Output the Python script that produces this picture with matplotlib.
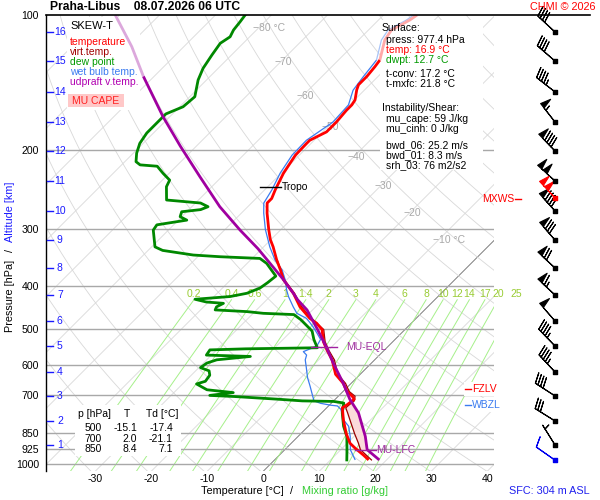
import numpy as np
import matplotlib
matplotlib.use("Agg")
import matplotlib.pyplot as plt
from matplotlib.lines import Line2D
from matplotlib.patches import Rectangle
from matplotlib.ticker import NullLocator

plt.rcParams['font.family'] = ['Liberation Sans', 'DejaVu Sans']

# ---------------- data ----------------
temp_p = [977, 953, 920, 897, 854, 795, 748, 736, 716, 705, 688, 660, 630, 585, 556, 533, 501,
          485, 473, 446, 416, 388, 369, 351, 328, 316, 300, 276, 262, 256, 245, 225, 214, 205,
          193, 190, 182, 173, 163, 158.5, 154.6, 146.8, 143, 137, 130.4, 126, 113.7, 108, 102.6, 100]
temp_t = [16.8, 15.0, 12.3, 10.5, 8.1, 5.1, 2.8, 3.1, 3.4, 2.5, 0.7, -1.4, -4.4, -7.6, -10.3, -12.4,
          -14.8, -16.9, -19.0, -22.8, -26.4, -30.6, -32.9, -35.3, -38.3, -40.1, -42.2, -45.4, -47.2,
          -47.2, -48.1, -49.6, -50.2, -50.7, -50.8, -50.8, -49.3, -49.3, -49.6, -49.6, -49.9, -51.4,
          -52.0, -52.0, -52.3, -52.6, -55.3, -55.9, -54.4, -54.0]

dew_p = [977, 927, 866, 822, 768, 730, 724, 722, 716, 706, 702, 692, 682, 662, 653, 633, 619, 609,
         595, 585, 575, 571, 556, 553, 550, 527, 505, 492, 476, 464, 461, 457, 453, 446, 438, 435,
         429, 423, 416, 405, 394, 381, 357, 348, 345, 342, 334, 328, 301, 293, 286, 281, 274, 271,
         267, 262, 258, 241, 233, 225, 217, 215.5, 212, 203, 193, 183, 174, 166, 160, 152, 139.5,
         131.4, 122.7, 115.6, 111.8, 108, 103.5, 100]
dew_t = [12.9, 11.1, 8.7, 6.3, 3.7, 2.2, 0.1, -5.6, -10.1, -18.5, -23.1, -19.4, -24.6, -27.5, -26.4,
         -26.7, -27.6, -29.7, -29.4, -28.2, -22.8, -30.9, -31.2, -25.0, -12.4, -14.5, -16.3, -18.1,
         -20.4, -22.5, -28.2, -31.4, -37.4, -37.7, -37.1, -40.4, -42.9, -37.1, -34.7, -33.3, -32.9,
         -32.6, -36.5, -38.6, -46.0, -51.1, -57.4, -59.4, -62.7, -63.0, -58.5, -60.3, -60.9, -57.9,
         -57.1, -59.1, -65.7, -68.1, -68.7, -71.1, -73.4, -76.7, -78.0, -79.4, -80.6, -81.2, -81.2,
         -81.2, -79.4, -79.1, -81.5, -82.7, -83.5, -84.1, -83.5, -84.1, -84.4, -84.7]

wb_p = [977, 927, 866, 822, 795, 754, 741, 738, 731, 722, 698, 670, 641, 606, 585, 571, 561, 551,
        545, 527, 510, 494, 482, 473, 461, 446, 423, 409, 388, 369, 351, 328, 300, 276, 262, 245,
        225, 205, 190, 173, 158.5, 147, 137, 126, 113.7, 108, 102.6, 100]
wb_t = [14.4, 11.7, 9.3, 7.2, 5.1, 2.8, 1.6, 0.2, -1.9, -3.5, -5.0, -6.8, -8.8, -11.0, -12.4, -13.0,
        -14.2, -13.3, -12.8, -13.3, -15.1, -16.9, -18.4, -19.6, -22.2, -24.0, -26.7, -28.2, -30.3,
        -32.6, -35.6, -38.9, -42.8, -46.0, -47.8, -48.7, -50.2, -51.3, -51.4, -49.9, -50.2, -52.0,
        -52.6, -53.2, -55.9, -56.5, -55.0, -54.6]

tv_p = [977, 953, 927, 897, 854, 806, 767, 748, 736, 722, 705, 688, 660, 630, 585, 556, 533, 501,
        473, 446, 416, 388, 351]
tv_t = [17.3, 15.5, 13.5, 12.0, 9.6, 6.9, 4.6, 3.4, 3.5, 3.7, 3.0, 1.1, -1.0, -4.0, -7.2, -10.0,
        -12.1, -14.5, -18.7, -22.5, -26.2, -30.5, -35.2]

par_p = [977, 927, 866, 768, 716, 660, 595, 545, 501, 453, 430, 416, 388, 331, 301, 267, 229, 196,
         168.4, 137, 117.6, 100]
par_t = [18.7, 14.7, 12.0, 6.6, 2.6, -1.4, -6.8, -11.2, -15.6, -21.0, -24.5, -26.4, -30.6, -40.7,
         -47.2, -55.0, -63.9, -72.8, -81.2, -91.9, -99.3, -107.9]

alt_km = list(range(1, 17))
alt_p = [904.8, 800.2, 703.9, 622.6, 545.0, 479.5, 419.7, 365.5, 316.7, 272.9, 234.0, 200.7,
         173.0, 148.3, 126.6, 109.1]

sfc_p = 977.4
wind_p = alt_p
wind_dir = [328, 302, 303, 317, 316, 319, 313, 313, 319, 318, 312, 316, 322, 308, 311, 313]
wind_spd = [5, 30, 40, 45, 45, 50, 65, 70, 80, 90, 100, 90, 55, 45, 40, 40]
sfc_dir, sfc_spd = 305, 10
mxws_p, mxws_dir, mxws_spd = 255.3, 317, 100

p_ticks = [100, 200, 300, 400, 500, 600, 700, 850, 925, 1000]
t_ticks = [-30, -20, -10, 0, 10, 20, 30, 40]
iso_labels = [-80, -70, -60, -50, -40, -30, -20, -10]
mix_ratios = [0.2, 0.4, 0.6, 1, 1.4, 2, 3, 4, 6, 8, 10, 12, 14, 17, 20, 25]
mix_labels = ['0.2', '0.4', '0.6', '1', '1.4', '2', '3', '4', '6', '8', '10', '12', '14', '17', '20', '25']

tropo_p = 241.7
eql_p = 547.0
lfc_p = 928.5
fzlv_p = 680.0
wbzl_p = 736.0

table_rows = [('500', '-15.1', '-17.4'), ('700', '2.0', '-21.1'), ('850', '8.4', '7.1')]

# ---------------- geometry ----------------
W, H = 600, 500
AX_L, AX_R, AX_T, AX_B = 46, 494, 15, 471
P_TOP, P_BOT = 100.0, 1034.0
PXDEG = 5.6
X0 = 263.5
DEC = np.log10(P_BOT / P_TOP)
SKEW = (AX_B - AX_T) / DEC / PXDEG


def sk(T, p):
    return np.asarray(T, float) + SKEW * np.log10(P_BOT / np.asarray(p, float))


def axx(px):
    return (px - X0) / PXDEG


def p_of(py):
    return P_TOP * 10 ** ((py - AX_T) / (AX_B - AX_T) * DEC)


fig = plt.figure(figsize=(6, 5), dpi=100)
fig.patch.set_facecolor('white')
ax = fig.add_axes([AX_L / W, 1 - AX_B / H, (AX_R - AX_L) / W, (AX_B - AX_T) / H])
ax.set_yscale('log')
ax.set_ylim(P_BOT, P_TOP)
ax.set_xlim(axx(AX_L), axx(AX_R))
for s in ['top', 'right', 'bottom']:
    ax.spines[s].set_visible(False)
ax.spines['left'].set_color('black')
ax.spines['left'].set_linewidth(1.0)
ax.yaxis.set_minor_locator(NullLocator())
ax.set_yticks(p_ticks)
ax.set_yticklabels([str(v) for v in p_ticks])
ax.set_xticks(t_ticks)
ax.set_xticklabels([str(v) for v in t_ticks])
ax.tick_params(axis='y', length=0, pad=5, labelsize=7.6)
ax.tick_params(axis='x', length=0, pad=2.5, labelsize=7.6)


def ftext(px, py, s, **kw):
    kw.setdefault('va', 'center')
    kw.setdefault('ha', 'left')
    kw.setdefault('fontsize', 7.5)
    return fig.text(px / W, 1 - py / H, s, **kw)


# background lines
pp = np.logspace(np.log10(P_BOT), np.log10(P_TOP), 200)
for T in range(-140, 60, 10):
    col = '#6a6a6a' if T == 0 else '#d8d8d8'
    ax.plot(sk(T, pp), pp, color=col, lw=0.6, zorder=1)
for th in range(240, 500, 10):
    tt = th * (pp / 1000.0) ** 0.2857 - 273.15
    ax.plot(sk(tt, pp), pp, color='#d8d8d8', lw=0.6, zorder=1)
pm = np.logspace(np.log10(P_BOT), np.log10(430), 60)
p_lab = p_of(294.5)
for w, lab in zip(mix_ratios, mix_labels):
    e = w * pm / (622.0 + w)
    lg = np.log(e / 6.112)
    td = 243.5 * lg / (17.67 - lg)
    ax.plot(sk(td, pm), pm, color='#a6f08a', lw=0.7, zorder=1)
    ax.text(sk(td[-1], 430), p_lab, lab, color='#99cc33', fontsize=7.5,
            ha='center', va='center', zorder=2)

for p in p_ticks[1:]:
    ax.axhline(p, color='#a8a8a8', lw=1.0, zorder=1.5)

iso_y = {-80: 28, -70: 62, -60: 96, -50: 127, -40: 157, -30: 186, -20: 213, -10: 240}
for T in iso_labels:
    p = p_of(iso_y[T])
    lab = f'{T} \u00b0C' if T in (-80, -10) else f'{T}'
    ax.text(sk(T, p) - 6 / PXDEG, p, lab.replace('-', '\u2212'), color='#a8a8a8',
            fontsize=7.5, ha='left', va='center', zorder=2)


# boxes (above background, below profiles)
def fbox(x0, y0, x1, y1, color='white', z=2.5):
    r = Rectangle((x0 / W, 1 - y1 / H), (x1 - x0) / W, (y1 - y0) / H, transform=fig.transFigure,
                  facecolor=color, edgecolor='none', zorder=z, clip_on=False)
    ax.add_patch(r)


fbox(67, 17, 140, 110)
fbox(380, 20, 483, 170)
fbox(75, 405, 181, 456)
fbox(464, 382, 508, 396)
fbox(464, 398, 508, 412)
fbox(68, 94, 124, 107, color='#ffc8c8', z=2.6)

# CAPE shading
pg = np.linspace(lfc_p, eql_p, 120)
lp = np.log(pg)
par_i = np.interp(lp, np.log(par_p)[::-1], np.array(par_t)[::-1])
tv_i = np.interp(lp, np.log(tv_p)[::-1], np.array(tv_t)[::-1])
ax.fill_betweenx(pg, sk(tv_i, pg), sk(par_i, pg), where=par_i > tv_i, color='#fbdada',
                 lw=0, zorder=3)


def split_plot(p, t, thr, c1, c2, lw, z):
    p = np.asarray(p, float)
    t = np.asarray(t, float)
    idx = np.where(p >= thr)[0]
    last = idx[-1]
    ax.plot(sk(t[:last + 1], p[:last + 1]), p[:last + 1], color=c1, lw=lw, zorder=z,
            solid_capstyle='butt')
    ax.plot(sk(t[last:], p[last:]), p[last:], color=c2, lw=lw, zorder=z - 0.1,
            solid_capstyle='butt')


split_plot(wb_p, wb_t, 126, '#3a7bf0', '#a8c4f8', 0.9, 4)
ax.plot(sk(dew_t, dew_p), dew_p, color='#008800', lw=2.0, zorder=5)
ax.plot(sk(tv_t, tv_p), tv_p, color='#990000', lw=0.9, zorder=5.5)
split_plot(temp_p, temp_t, 126, '#ff0000', '#ffa8a8', 2.0, 6)
split_plot(par_p, par_t, 136, '#a000a0', '#dca8dc', 2.0, 7)

# level markers
ax.plot([axx(260), axx(281)], [tropo_p, tropo_p], color='black', lw=1, zorder=8)
ax.text(axx(282), tropo_p, 'Tropo', fontsize=7.5, va='center', ha='left', zorder=9)
ax.plot([axx(311), axx(337)], [eql_p, eql_p], color='#a020a0', lw=1, zorder=8)
ax.text(axx(346), eql_p, 'MU-EQL', fontsize=7.5, color='#a030a0', va='center', ha='left', zorder=9)
ax.plot([axx(355), axx(376)], [lfc_p, lfc_p], color='#a020a0', lw=1, zorder=8)
ax.text(axx(376), lfc_p, 'MU-LFC', fontsize=7.5, color='#a030a0', va='center', ha='left', zorder=9)
ax.plot([axx(465), axx(471)], [fzlv_p, fzlv_p], color='red', lw=1, zorder=8)
ax.text(axx(472), fzlv_p, 'FZLV', fontsize=7.5, color='red', va='center', ha='left', zorder=9)
ax.plot([axx(465), axx(471)], [wbzl_p, wbzl_p], color='#3a7bf0', lw=1, zorder=8)
ax.text(axx(472), wbzl_p, 'WBZL', fontsize=7.5, color='#3a7bf0', va='center', ha='left', zorder=9)

# altitude scale
for km, p in zip(alt_km, alt_p):
    ax.plot([axx(47.5), axx(53.5)], [p, p], color='#1a1aff', lw=1, zorder=9, clip_on=False)
    ax.text(axx(54.5 if km >= 10 else 57), p, str(km), color='#1a1aff', fontsize=7.5,
            va='center', ha='left', zorder=9)

# wind barbs
bax = fig.add_axes([500 / W, 1 - AX_B / H, 100 / W, (AX_B - AX_T) / H])
bax.set_yscale('log')
bax.set_ylim(P_BOT, P_TOP)
bax.set_xlim(500, 600)
bax.axis('off')


def uv(d, s):
    r = np.deg2rad(np.asarray(d, float))
    s = np.asarray(s, float)
    return -s * np.sin(r), -s * np.cos(r)


BX = 555
for ps, ds, ss, col in [(wind_p, wind_dir, wind_spd, 'black'), ([sfc_p], [sfc_dir], [sfc_spd], '#0000ee'),
                        ([mxws_p], [mxws_dir], [mxws_spd], 'red')]:
    u, v = uv(ds, ss)
    b = bax.barbs(np.full(len(ps), BX), ps, u, v, length=5.8, color=col, linewidth=0.8,
                  sizes=dict(spacing=0.13, height=0.45, width=0.24), zorder=3)
    b.set_clip_on(False)
    bax.scatter(np.full(len(ps), BX), ps, marker='s', s=5, color=col, zorder=4, clip_on=False)

# top line
fig.add_artist(Line2D([AX_L / W, 590 / W], [1 - AX_T / H, 1 - AX_T / H], color='black', lw=1.2))

# texts
ftext(50, 7, 'Praha-Libus    08.07.2026 06 UTC', fontweight='bold', fontsize=8.7)
ftext(596, 7, 'CHMI \u00a9 2026', color='red', ha='right', fontsize=7.8)
ftext(590, 491, 'SFC: 304 m ASL', color='#2020ee', ha='right', fontsize=7.8)
ftext(284, 491, 'Temperature [\u00b0C]', ha='right', fontsize=7.8)
ftext(291, 491, '/', ha='center', fontsize=7.8)
ftext(302, 491, 'Mixing ratio [g/kg]', color='#33cc33', fontsize=7.8)
ftext(10, 296, 'Pressure [hPa]', rotation=90, ha='center', fontsize=7.8)
ftext(10, 251, '/', rotation=90, ha='center', fontsize=7.8)
ftext(10, 212, 'Altitude [km]', rotation=90, ha='center', color='#1a1aff', fontsize=7.8)

ftext(70, 26, 'SKEW-T', fontsize=8)
ftext(70, 42, 'temperature', color='#ff0000')
ftext(70, 52, 'virt.temp.', color='#a00000')
ftext(70, 62, 'dew point', color='#009900')
ftext(70, 72, 'wet bulb temp.', color='#3a7bf0')
ftext(70, 82, 'udpraft v.temp.', color='#b000b0')
ftext(96, 101, 'MU CAPE', color='#ff2020', ha='center')

info = [(382, 28, 'Surface:', 'black'), (386, 40, 'press: 977.4 hPa', 'black'),
        (386, 50, 'temp: 16.9 \u00b0C', 'red'), (386, 60, 'dwpt: 12.7 \u00b0C', '#009900'),
        (386, 74, 't-conv: 17.2 \u00b0C', 'black'), (386, 84, 't-mxfc: 21.8 \u00b0C', 'black'),
        (382, 108, 'Instability/Shear:', 'black'), (386, 119, 'mu_cape: 59 J/kg', 'black'),
        (386, 129, 'mu_cinh: 0 J/kg', 'black'), (386, 145, 'bwd_06: 25.2 m/s', 'black'),
        (386, 155, 'bwd_01: 8.3 m/s', 'black'), (386, 165, 'srh_03: 76 m2/s2', 'black')]
for x, y, s, c in info:
    ftext(x, y, s, color=c)

ftext(78, 414, 'p [hPa]')
ftext(127, 414, 'T', ha='center')
ftext(146, 414, 'Td [\u00b0C]')
for (a, b, c), y in zip(table_rows, [428, 438.5, 449]):
    ftext(102, y, a, ha='right')
    ftext(137, y, b, ha='right')
    ftext(173, y, c, ha='right')

ftext(482, 199, 'MXWS', color='red')
fig.add_artist(Line2D([515 / W, 521 / W], [1 - 199 / H, 1 - 199 / H], color='red', lw=1))

fig.savefig('out.png', dpi=100)
